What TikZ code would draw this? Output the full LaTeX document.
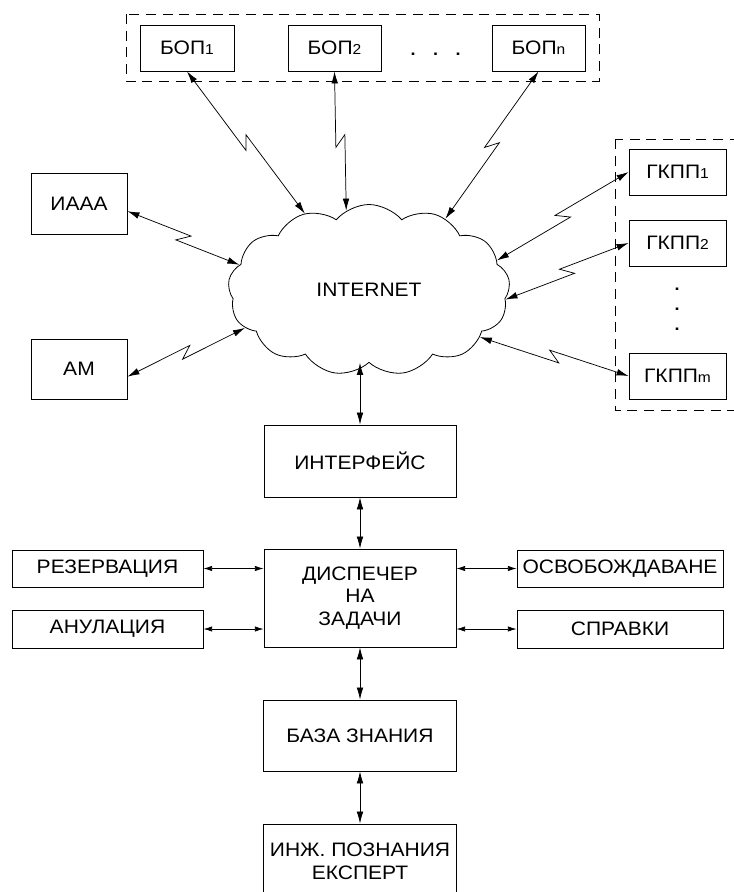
\documentclass[tikz,border=0pt]{standalone}
\usepackage{fontspec}
\setmainfont{Liberation Sans}[FakeStretch=1.08]
\usetikzlibrary{shapes.symbols,calc,arrows.meta}
\newcommand\sbs[1]{{\fontsize{10.8pt}{12pt}\selectfont #1}}
\newcommand\dotbox{\makebox[16.875pt]{.}}
% zigzag (lightning) connector: #1 start, #2 end, #3 side (-90 or 90)
\newcommand\zzline[3]{%
  \path (#1) -- (#2) coordinate[pos=0.5] (zm);
  \coordinate (zq1) at ($(zm)!4.5pt!(#2)$);
  \coordinate (zp1) at ($(zq1)!3.75pt!#3:(#2)$);
  \coordinate (zq2) at ($(zm)!4.5pt!(#1)$);
  \coordinate (zp2) at ($(zq2)!3.75pt!#3:(#1)$);
  \draw[lt] (#1) -- (zp1) -- (zp2) -- (#2);
}
\begin{document}
\begin{tikzpicture}[x=0.75pt,y=-0.75pt,
  font=\fontsize{14.6pt}{17pt}\selectfont,
  box/.style 2 args={draw, line width=0.65pt, minimum width=#1*0.75pt, minimum height=#2*0.75pt, inner sep=0pt, align=center},
  lt/.style={line width=0.55pt, {Latex[length=9pt,width=5pt]}-{Latex[length=9pt,width=5pt]}},
  sm/.style={line width=0.55pt, {Latex[length=6.5pt,width=4pt]}-{Latex[length=6.5pt,width=4pt]}},
  grp/.style={draw, line width=0.6pt, dash pattern=on 7.5pt off 5pt}]
\useasboundingbox (0,0) rectangle (734,892);

% group frames
\draw[grp] (126,14) rectangle (599,81);
\draw[grp] (615,139) rectangle (748,410);

% top row
\node[box={94}{46}] (bop1) at (187,48) {БОП\sbs{1}};
\node[box={93}{46}] (bop2) at (334.5,48) {БОП\sbs{2}};
\node[box={93}{46}] (bopn) at (538.5,48) {БОП\sbs{n}};
\node[anchor=base, inner sep=0pt, font=\bfseries\fontsize{12.5pt}{15pt}\selectfont] (hdots) at (435.5,56) {\dotbox\dotbox\dotbox};

% left
\node[box={96}{61}] (iaaa) at (79,203.5) {ИААА};
\node[box={96}{60}] (am) at (79,369) {АМ};

% right
\node[box={97}{46}] (gk1) at (677.5,172) {ГКПП\sbs{1}};
\node[box={97}{46}] (gk2) at (677.5,243) {ГКПП\sbs{2}};
\node[box={97}{46}] (gkm) at (677.5,376) {ГКПП\sbs{m}};
\node[align=center, inner sep=0pt, font=\bfseries\fontsize{12.5pt}{15pt}\selectfont] (vdots) at (677,309) {.\\.\\.};

% cloud
\node[cloud, draw, line width=0.6pt, cloud puffs=13, cloud puff arc=100, aspect=1.65,
      minimum width=282*0.75pt, minimum height=171*0.75pt, inner sep=0pt] (inet) at (369,290) {INTERNET};

% lower chain
\node[box={192}{72}] (iface) at (360,461) {ИНТЕРФЕЙС};
\node[box={192}{98}] (disp) at (360,598) {ДИСПЕЧЕР\\НА\\ЗАДАЧИ};
\node[box={191}{37}] (rez) at (107.5,568.5) {РЕЗЕРВАЦИЯ};
\node[box={191}{38}] (anul) at (107.5,629) {АНУЛАЦИЯ};
\node[box={206}{37}] (osv) at (620,568.5) {ОСВОБОЖДАВАНЕ};
\node[box={206}{38}] (spr) at (620,629) {СПРАВКИ};
\node[box={193}{71}] (baza) at (360,735.5) {БАЗА ЗНАНИЯ};
\node[box={193}{74}] (inzh) at (360,861) {ИНЖ. ПОЗНАНИЯ\\ЕКСПЕРТ};

% lightning connectors
\zzline{bop1.south}{inet.130}{-90}
\zzline{bop2.south}{inet.106}{-90}
\zzline{bopn.south}{inet.43}{-90}
\zzline{iaaa.-9}{inet.169}{90}
\zzline{am.-9}{inet.197}{90}
\zzline{gk1.west}{inet.13}{-90}
\zzline{gk2.west}{inet.356}{-90}
\zzline{gkm.west}{inet.337}{-90}

% straight connectors
\draw[lt] (iface.north) -- (iface.north |- inet.south);
\draw[lt] (iface.south) -- (disp.north);
\draw[lt] (disp.south) -- (baza.north);
\draw[lt] (baza.south) -- (inzh.north);
\draw[sm] (rez.east) -- (rez.east -| disp.west);
\draw[sm] (anul.east) -- (anul.east -| disp.west);
\draw[sm] (osv.west) -- (osv.west -| disp.east);
\draw[sm] (spr.west) -- (spr.west -| disp.east);
\end{tikzpicture}
\end{document}
